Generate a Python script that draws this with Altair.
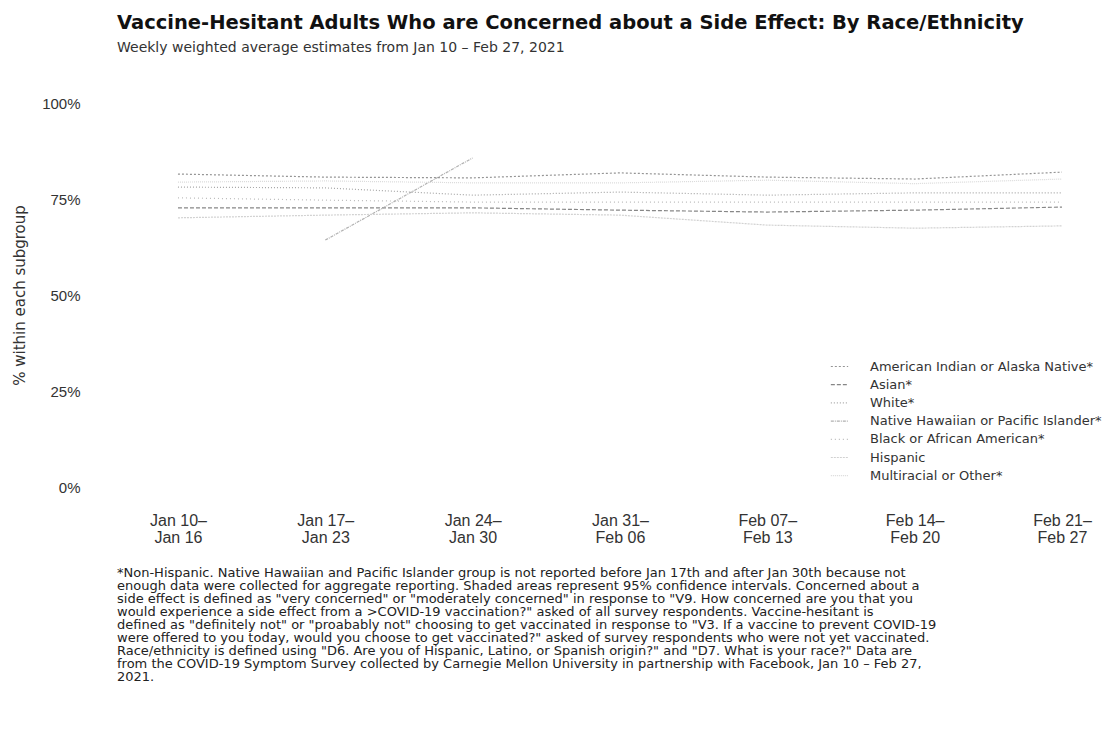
import altair as alt
import pandas as pd

# ---------------- data ----------------
series_names = [
    "American Indian or Alaska Native*",
    "Asian*",
    "White*",
    "Native Hawaiian or Pacific Islander*",
    "Black or African American*",
    "Hispanic",
    "Multiracial or Other*",
]

weeks = [0, 1, 2, 3, 4, 5, 6]
week_top = ["Jan 10–", "Jan 17–", "Jan 24–", "Jan 31–", "Feb 07–", "Feb 14–", "Feb 21–"]
week_bottom = ["Jan 16", "Jan 23", "Jan 30", "Feb 06", "Feb 13", "Feb 20", "Feb 27"]

aian = [81.5, 80.7, 80.5, 81.8, 80.7, 80.2, 82.0]
asian = [72.7, 72.7, 72.7, 72.1, 71.6, 72.1, 72.9]
white = [78.1, 77.9, 76.0, 76.8, 76.0, 76.6, 76.6]
black = [75.3, 74.7, 74.2, 74.2, 74.2, 74.2, 74.2]
hispanic = [70.1, 70.8, 71.4, 70.8, 68.2, 67.4, 68.0]
multi = [79.4, 79.7, 79.2, 79.2, 79.9, 79.0, 80.2]

nhpi_weeks = [1, 2]
nhpi = [64.3, 85.7]

series_colors = ["#8a8a8a", "#7a7a7a", "#9c9c9c", "#a8a8a8", "#b4b4b4", "#cdcdcd", "#d6d6d6"]
series_dashes = [[2, 2], [4, 2], [1, 2], [3, 1, 1, 1], [1, 3], [2, 1], [1, 1]]

y_ticks = [0, 25, 50, 75, 100]

title_text = "Vaccine-Hesitant Adults Who are Concerned about a Side Effect: By Race/Ethnicity"
subtitle_text = "Weekly weighted average estimates from Jan 10 – Feb 27, 2021"

footnote_lines = [
    "*Non-Hispanic. Native Hawaiian and Pacific Islander group is not reported before Jan 17th and after Jan 30th because not",
    "enough data were collected for aggregate reporting. Shaded areas represent 95% confidence intervals. Concerned about a",
    "side effect is defined as \"very concerned\" or \"moderately concerned\" in response to \"V9. How concerned are you that you",
    "would experience a side effect from a >COVID-19 vaccination?\" asked of all survey respondents. Vaccine-hesitant is",
    "defined as \"definitely not\" or \"proabably not\" choosing to get vaccinated in response to \"V3. If a vaccine to prevent COVID-19",
    "were offered to you today, would you choose to get vaccinated?\" asked of survey respondents who were not yet vaccinated.",
    "Race/ethnicity is defined using \"D6. Are you of Hispanic, Latino, or Spanish origin?\" and \"D7. What is your race?\" Data are",
    "from the COVID-19 Symptom Survey collected by Carnegie Mellon University in partnership with Facebook, Jan 10 – Feb 27,",
    "2021.",
]

# ---------------- build table ----------------
series_values = {
    series_names[0]: (weeks, aian),
    series_names[1]: (weeks, asian),
    series_names[2]: (weeks, white),
    series_names[3]: (nhpi_weeks, nhpi),
    series_names[4]: (weeks, black),
    series_names[5]: (weeks, hispanic),
    series_names[6]: (weeks, multi),
}
rows = []
for name in series_names:
    d, v = series_values[name]
    for di, vi in zip(d, v):
        rows.append({"series": name, "week": di, "value": vi})
df = pd.DataFrame(rows)

FONT = "DejaVu Sans"
AXFONT = "Liberation Sans"

label_expr = " : ".join(
    f"datum.value == {d} ? ['{a}', '{b}']" for d, a, b in zip(weeks, week_top, week_bottom)
) + " : ''"

x_enc = alt.X(
    "week:Q",
    scale=alt.Scale(domain=[-0.597, 6.258], nice=False, zero=False),
    axis=alt.Axis(
        values=weeks, labelExpr=label_expr, title=None, domain=False, ticks=False,
        grid=False, labelPadding=25, labelFontSize=16, labelFont=AXFONT, labelColor="#333333",
        labelLineHeight=17, labelOverlap=False, labelBound=False, labelFlush=False,
        labelAlign="center", labelBaseline="top",
    ),
)
y_enc = alt.Y(
    "value:Q",
    scale=alt.Scale(domain=[0, 100], nice=False),
    axis=alt.Axis(
        values=y_ticks, labelExpr="datum.value + '%'", title="% within each subgroup",
        domain=False, ticks=False, grid=False, labelPadding=10, labelFontSize=15,
        labelFont=AXFONT, labelColor="#333333", titleFont=FONT, titleFontSize=15,
        titleFontWeight="normal", titleColor="#333333", titlePadding=14,
    ),
)

lines = alt.Chart(df).mark_line(strokeWidth=1.2, opacity=0.9).encode(
    x=x_enc,
    y=y_enc,
    color=alt.Color(
        "series:N",
        scale=alt.Scale(domain=series_names, range=series_colors),
        legend=alt.Legend(
            title=None, orient="none", legendX=740, legendY=254, symbolType="stroke",
            symbolSize=300, symbolStrokeWidth=1.2, labelFont=FONT, labelFontSize=13,
            labelColor="#333333", rowPadding=1.2, labelOffset=21, labelLimit=400,
        ),
    ),
    strokeDash=alt.StrokeDash(
        "series:N",
        scale=alt.Scale(domain=series_names, range=series_dashes),
        legend=None,
    ),
    detail="series:N",
)

footnote = alt.Chart(pd.DataFrame({"t": ["\n".join(footnote_lines)]})).mark_text(
    align="left", baseline="top", font=FONT, fontSize=13, lineHeight=13,
    color="#222222", lineBreak="\n",
).encode(text="t:N", x=alt.value(27), y=alt.value(464))

chart = alt.layer(lines, footnote).properties(
    width=1010,
    height=384,
    padding={"left": 82, "top": 95, "right": 4, "bottom": 230},
    autosize=alt.AutoSizeParams(type="none"),
    title=alt.TitleParams(
        text=title_text, subtitle=subtitle_text, anchor="start", frame="group", dx=27,
        font=FONT, fontSize=19.5, fontWeight="bold", color="#111111",
        subtitleFont=FONT, subtitleFontSize=14, subtitleColor="#333333",
        subtitlePadding=8, offset=40,
    ),
).configure(background="white").configure_view(stroke="transparent", strokeWidth=0)

chart.save("out.html", embed_options={"renderer": "svg", "actions": False})
